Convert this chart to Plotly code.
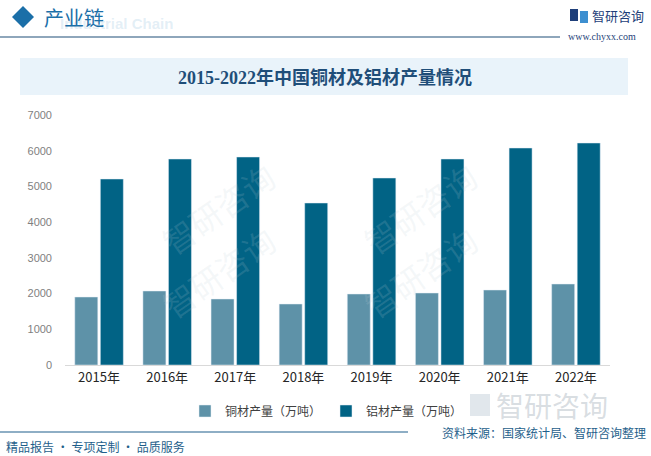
import plotly.graph_objects as go

years = ["2015年", "2016年", "2017年", "2018年", "2019年", "2020年", "2021年", "2022年"]
copper = [1904, 2072, 1848, 1708, 1988, 2016, 2100, 2268]
aluminum = [5208, 5768, 5824, 4536, 5236, 5768, 6076, 6216]
series_names = ["铜材产量（万吨）", "铝材产量（万吨）"]
y_ticks = [0, 1000, 2000, 3000, 4000, 5000, 6000, 7000]

W, H = 651, 456
L, R, T, B = 65, 41, 115, 91
PW, PH = W - L - R, H - T - B
CJK = "Noto Sans CJK SC, Noto Sans, sans-serif"

fig = go.Figure()
fig.add_trace(go.Bar(x=years, y=copper, name=series_names[0], marker_color="#5e92a8"))
fig.add_trace(go.Bar(x=years, y=aluminum, name=series_names[1], marker_color="#016385"))


def px(x):
    return (x - L) / PW


def py(y):
    return (H - B - y) / PH


fig.update_layout(
    width=W, height=H,
    margin=dict(l=L, r=R, t=T, b=B),
    paper_bgcolor="white", plot_bgcolor="white",
    barmode="group", bargap=0.25, bargroupgap=0.1,
    showlegend=True,
    legend=dict(orientation="h", x=px(326), xanchor="center", y=py(411), yanchor="middle",
                font=dict(family=CJK, size=12, color="#404040"),
                entrywidth=96, entrywidthmode="pixels", itemwidth=30,
                traceorder="normal", bgcolor="rgba(0,0,0,0)"),
    xaxis=dict(showgrid=False, showline=True, linecolor="#d9d9d9", linewidth=1,
               ticks="", tickfont=dict(family=CJK, size=13, color="#262626"), fixedrange=True),
    yaxis=dict(range=[0, 7000], tickvals=y_ticks, showgrid=False, zeroline=False,
               showline=False, ticks="",
               tickfont=dict(family="Liberation Sans, Arial, sans-serif", size=11, color="#7f7f7f"),
               ticklabelstandoff=12),
    font=dict(family=CJK),
)

shapes = []
annotations = []

# faint watermarks
for (wx, wy) in [(150, 150), (420, 150), (150, 330), (420, 330)]:
    annotations.append(dict(x=px(wx), y=py(wy), xref="paper", yref="paper", text="智研咨询",
                            showarrow=False, textangle=-35,
                            font=dict(family=CJK, size=32, color="rgba(190,205,215,0.16)")))

# header
shapes.append(dict(type="path", xref="paper", yref="paper",
                   path=f"M {px(12)},{py(17)} L {px(23)},{py(6)} L {px(34)},{py(17)} L {px(23)},{py(28)} Z",
                   fillcolor="#1b6fa8", line=dict(width=0)))
annotations.append(dict(x=px(58), y=py(24), xref="paper", yref="paper", text="<b>Industrial Chain</b>",
                        showarrow=False, xanchor="left", yanchor="middle",
                        font=dict(family="Liberation Sans, Arial", size=15, color="rgba(160,200,225,0.3)")))
annotations.append(dict(x=px(42), y=py(17), xref="paper", yref="paper", text="产业链",
                        showarrow=False, xanchor="left", yanchor="middle",
                        font=dict(family=CJK, size=20, color="#1b6fa8")))
shapes.append(dict(type="line", xref="paper", yref="paper", x0=px(0), x1=px(560), y0=py(37), y1=py(37),
                   line=dict(color="#1f4e79", width=1.2)))
# logo
shapes.append(dict(type="rect", xref="paper", yref="paper", x0=px(570), x1=px(578), y0=py(21), y1=py(9),
                   fillcolor="#1f3f7a", line=dict(width=0)))
shapes.append(dict(type="rect", xref="paper", yref="paper", x0=px(580), x1=px(588), y0=py(23), y1=py(11),
                   fillcolor="#3d8fd0", line=dict(width=0)))
annotations.append(dict(x=px(590), y=py(15), xref="paper", yref="paper", text="智研咨询",
                        showarrow=False, xanchor="left", yanchor="middle",
                        font=dict(family=CJK, size=13, color="#1f3f7a")))
annotations.append(dict(x=px(566), y=py(37), xref="paper", yref="paper", text="www.chyxx.com",
                        showarrow=False, xanchor="left", yanchor="middle",
                        font=dict(family="Liberation Serif, serif", size=10, color="#1f3f7a")))

# title box
shapes.append(dict(type="rect", xref="paper", yref="paper", x0=px(20), x1=px(628), y0=py(95), y1=py(58),
                   fillcolor="#e9f3fa", line=dict(width=0), layer="below"))
annotations.append(dict(x=px(325), y=py(77), xref="paper", yref="paper",
                        text="<b>2015-2022年中国铜材及铝材产量情况</b>",
                        showarrow=False, xanchor="center", yanchor="middle",
                        font=dict(family="Liberation Serif, Noto Sans CJK SC, serif", size=18, color="#1f4e79")))

# bottom watermark logo
annotations.append(dict(x=px(494), y=py(405), xref="paper", yref="paper", text="智研咨询",
                        showarrow=False, xanchor="left", yanchor="middle",
                        font=dict(family=CJK, size=28, color="rgba(170,180,190,0.45)")))
shapes.append(dict(type="rect", xref="paper", yref="paper", x0=px(470), x1=px(490), y0=py(416), y1=py(394),
                   fillcolor="rgba(170,185,200,0.35)", line=dict(width=0)))

# footer
shapes.append(dict(type="line", xref="paper", yref="paper", x0=px(0), x1=px(408), y0=py(432), y1=py(432),
                   line=dict(color="#1f5f8b", width=1.2)))
annotations.append(dict(x=px(648), y=py(432), xref="paper", yref="paper", text="资料来源：国家统计局、智研咨询整理",
                        showarrow=False, xanchor="right", yanchor="middle",
                        font=dict(family=CJK, size=12, color="#1f5f8b")))
annotations.append(dict(x=px(4), y=py(446), xref="paper", yref="paper", text="精品报告 · 专项定制 · 品质服务",
                        showarrow=False, xanchor="left", yanchor="middle",
                        font=dict(family=CJK, size=12, color="#1f5f8b")))

fig.update_layout(shapes=shapes, annotations=annotations)
fig.write_html("out.html", config={"displayModeBar": False},
               post_script="document.body.style.margin='0';document.body.style.overflow='hidden';")
